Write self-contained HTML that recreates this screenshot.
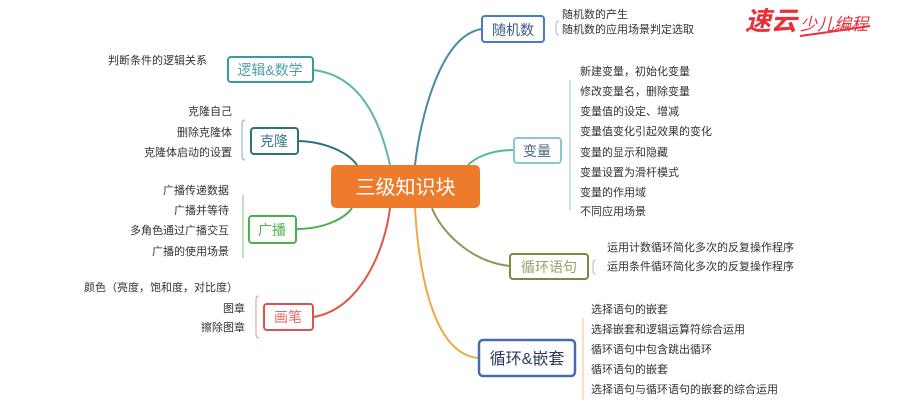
<!DOCTYPE html>
<html><head><meta charset="utf-8"><style>
html,body{margin:0;padding:0;background:#fff;width:900px;height:414px;overflow:hidden}
svg text{font-family:"Liberation Sans","Noto Sans CJK SC",sans-serif}
</style></head><body>
<svg width="900" height="414" viewBox="0 0 900 414" xmlns="http://www.w3.org/2000/svg">
<g fill="none" stroke-width="2">
<path d="M313,70 C360,75 380,120 390,165" stroke="#5fb8a8"/>
<path d="M482,29 C440,35 420,120 415,165" stroke="#4a8aa8"/>
<path d="M298,141 C330,142 350,155 357,165" stroke="#2f6f80"/>
<path d="M514,150 C490,150 475,158 468,165" stroke="#4fb89a"/>
<path d="M296,229 C325,229 345,218 352,208" stroke="#4caf50"/>
<path d="M313,317 C360,310 385,250 390,208" stroke="#e0574a"/>
<path d="M510,266 C470,262 440,230 432,208" stroke="#8a9a5a"/>
<path d="M479,358 C430,355 418,260 415,208" stroke="#f0a840"/>
</g>
<g fill="none" stroke-width="1">
<path d="M245,120 q-3,0 -3,4 v32 q0,4 3,4" stroke="#7ab0c0"/>
<path d="M243,195 v63" stroke="#7cc07c"/>
<path d="M259,296 q-3,0 -3,4 v34 q0,4 3,4" stroke="#e89088"/>
<path d="M559,21 q-3,0 -3,4 v6 q0,4 3,4" stroke="#9ab8d8"/>
<path d="M570,80 v130" stroke="#8cc8c0"/>
<path d="M596,260 q-3,0 -3,3 v8 q0,3 3,3" stroke="#b8c098"/>
<path d="M583,318 v82" stroke="#f0c080"/>
</g>
<rect x="331" y="165" width="149" height="43" rx="5" fill="#ee7a2c"/>
<text x="405.5" y="194" font-size="20" fill="#fff" text-anchor="middle">三级知识块</text>
<g fill="#fff" stroke-width="2">
<rect x="228" y="57" width="85" height="25" rx="3" stroke="#3a9aa0"/>
<rect x="251" y="128" width="47" height="26" rx="3" stroke="#2f6f80"/>
<rect x="249" y="216" width="47" height="27" rx="3" stroke="#4caf50"/>
<rect x="264" y="304" width="49" height="26" rx="3" stroke="#d9534f"/>
<rect x="482" y="16" width="62" height="26" rx="3" stroke="#4a7ac0"/>
<rect x="514" y="138" width="47" height="25" rx="3" stroke="#8cc8d0"/>
<rect x="510" y="254" width="78" height="25" rx="3" stroke="#7a8a40"/>
<rect x="479" y="340" width="96" height="36" rx="4" stroke="#4a6ab0" stroke-width="2.5"/>
</g>
<g font-size="14" text-anchor="middle">
<text x="270" y="75" fill="#4aa0a8">逻辑&amp;数学</text>
<text x="274" y="146" fill="#3a7a8a">克隆</text>
<text x="272" y="235" fill="#4caf50">广播</text>
<text x="288" y="322" fill="#e06a60">画笔</text>
<text x="513" y="35" fill="#3a5a8a">随机数</text>
<text x="537" y="156" fill="#4a6a80">变量</text>
<text x="549" y="272" fill="#9aa070">循环语句</text>
<text x="527" y="364" fill="#2a3a60" font-size="16">循环&amp;嵌套</text>
</g>
<g font-size="11" fill="#333">
<text x="207" y="64" text-anchor="end">判断条件的逻辑关系</text>
<text x="232" y="115" text-anchor="end">克隆自己</text>
<text x="232" y="136" text-anchor="end">删除克隆体</text>
<text x="232" y="156" text-anchor="end">克隆体启动的设置</text>
<text x="229" y="194" text-anchor="end">广播传递数据</text>
<text x="229" y="214" text-anchor="end">广播并等待</text>
<text x="229" y="234" text-anchor="end">多角色通过广播交互</text>
<text x="229" y="255" text-anchor="end">广播的使用场景</text>
<text x="238" y="291" text-anchor="end">颜色（亮度，饱和度，对比度）</text>
<text x="245" y="312" text-anchor="end">图章</text>
<text x="245" y="331" text-anchor="end">擦除图章</text>
<text x="562" y="18">随机数的产生</text>
<text x="562" y="33">随机数的应用场景判定选取</text>
<text x="580" y="75">新建变量，初始化变量</text>
<text x="580" y="95">修改变量名，删除变量</text>
<text x="580" y="115">变量值的设定、增减</text>
<text x="580" y="135">变量值变化引起效果的变化</text>
<text x="580" y="156">变量的显示和隐藏</text>
<text x="580" y="176">变量设置为滑杆模式</text>
<text x="580" y="196">变量的作用域</text>
<text x="580" y="215">不同应用场景</text>
<text x="607" y="251">运用计数循环简化多次的反复操作程序</text>
<text x="607" y="270">运用条件循环简化多次的反复操作程序</text>
<text x="591" y="313">选择语句的嵌套</text>
<text x="591" y="333">选择嵌套和逻辑运算符综合运用</text>
<text x="591" y="353">循环语句中包含跳出循环</text>
<text x="591" y="373">循环语句的嵌套</text>
<text x="591" y="393">选择语句与循环语句的嵌套的综合运用</text>
</g>
<text x="745" y="30" font-size="26" fill="#e8303a" font-style="italic" font-weight="bold">速云</text>
<text x="800" y="30" font-size="17" fill="#e8303a" font-style="italic">少儿编程</text>
<path d="M800,36 q30,-4 70,-10" stroke="#e8303a" stroke-width="2" fill="none"/>
</svg>
</body></html>
